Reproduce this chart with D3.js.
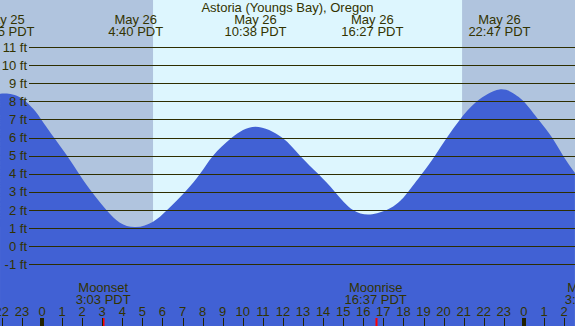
<!DOCTYPE html>
<html><head><meta charset="utf-8">
<script src="https://cdn.jsdelivr.net/npm/d3@7"></script>
<style>html,body{margin:0;padding:0;overflow:hidden;background:#fff}svg{display:block}text{font-family:"Liberation Sans",Arial,sans-serif}</style>
</head><body>
<script>
const title = "Astoria (Youngs Bay), Oregon";
// tide curve, hours from May 26 00:00 PDT, height in ft
const tideHours = [-2.09,-1.89,-1.15,-0.45,-0.10,0.55,1.25,1.89,2.54,3.24,3.88,4.67,5.53,6.23,7.12,7.87,8.52,9.46,10.63,11.95,12.85,13.75,14.59,15.49,16.45,17.33,17.83,18.23,18.92,19.57,20.17,20.82,21.66,22.78,23.56,24.05,24.75,25.40,25.95,26.54];
const tideFeet  = [8.40,8.43,8.25,7.60,7.10,6.08,5.00,3.92,2.92,1.96,1.30,1.06,1.36,2.00,3.00,4.00,5.00,6.00,6.60,6.00,5.00,4.00,3.00,2.00,1.77,2.10,2.50,3.00,4.00,5.00,6.00,7.00,8.00,8.66,8.38,7.92,6.95,6.00,5.00,4.05];
// high/low labels
const extremaHours = [-1.92, 4.667, 10.633, 16.45, 22.783];
const extremaDates = ["May 25","May 26","May 26","May 26","May 26"];
const extremaTimes = ["22:05 PDT","4:40 PDT","10:38 PDT","16:27 PDT","22:47 PDT"];
// daylight
const sunriseHour = 5.53, sunsetHour = 20.92;
// moon events
const moonHours = [3.05, 16.617, 27.4];
const moonNames = ["Moonset","Moonrise","Moonset"];
const moonTimes = ["3:03 PDT","16:37 PDT","3:24 PDT"];
// axis ticks
const ftTicks = [-1,0,1,2,3,4,5,6,7,8,9,10,11];
const hourTicks = d3.range(-2, 27);

const W = 575, H = 326;
const txt = "#333300";
const svg = d3.select("body").append("svg").attr("width", W).attr("height", H);
const x = d3.scaleLinear().domain([-2.0916, 26.544]).range([0, W]);
const y = d3.scaleLinear().domain([-1, 11]).range([264.4, 47.0]);

// background night/day
svg.append("rect").attr("x",0).attr("y",0).attr("width",W).attr("height",H).attr("fill","#b0c4de");
svg.append("rect").attr("x",x(sunriseHour)).attr("y",0).attr("width",x(sunsetHour)-x(sunriseHour)).attr("height",H).attr("fill","#ddf6fe");

// tide area
const pts = tideHours.map((h,i)=>[h,tideFeet[i]]);
svg.append("path").datum(pts)
  .attr("d", d3.area().x(d=>x(d[0])).y0(H).y1(d=>y(d[1])).curve(d3.curveNatural))
  .attr("fill","#4161d4");

// grid lines + labels
ftTicks.forEach(v=>{
  svg.append("line").attr("x1",29).attr("x2",W).attr("y1",Math.round(y(v))+0.5).attr("y2",Math.round(y(v))+0.5)
    .attr("stroke","#2e2e00").attr("stroke-width",1);
  svg.append("text").attr("x",27).attr("y",y(v)).attr("dy","0.35em").attr("text-anchor","end")
    .attr("font-size",13).attr("fill",txt).text(v+" ft");
});

// title
svg.append("text").attr("x",W/2).attr("y",12).attr("text-anchor","middle").attr("font-size",13).attr("fill",txt).text(title);

// extrema labels
extremaHours.forEach((h,i)=>{
  svg.append("text").attr("x",x(h)).attr("y",24).attr("text-anchor","middle").attr("font-size",13).attr("fill",txt).text(extremaDates[i]);
  svg.append("text").attr("x",x(h)).attr("y",36).attr("text-anchor","middle").attr("font-size",13).attr("fill",txt).text(extremaTimes[i]);
});

// moon labels
moonHours.forEach((h,i)=>{
  svg.append("text").attr("x",x(h)).attr("y",292).attr("text-anchor","middle").attr("font-size",13).attr("fill",txt).text(moonNames[i]);
  svg.append("text").attr("x",x(h)).attr("y",304).attr("text-anchor","middle").attr("font-size",13).attr("fill",txt).text(moonTimes[i]);
  svg.append("rect").attr("x",Math.round(x(h))-0.5).attr("y",318).attr("width",2).attr("height",8).attr("fill","#ff0000");
});

// hour ticks
hourTicks.forEach(h=>{
  const hr = ((h%24)+24)%24;
  const mid = hr===0;
  const xx = Math.round(x(h));
  if (!mid) svg.append("rect").attr("x",xx).attr("y",318).attr("width",1).attr("height",8).attr("fill","#222200");
  else svg.append("rect").attr("x",xx-2).attr("y",318).attr("width",4).attr("height",8).attr("fill","#222200");
  svg.append("text").attr("x",x(h)).attr("y",316).attr("text-anchor","middle").attr("font-size",13).attr("fill",txt).text(hr);
});
</script>
</body></html>
